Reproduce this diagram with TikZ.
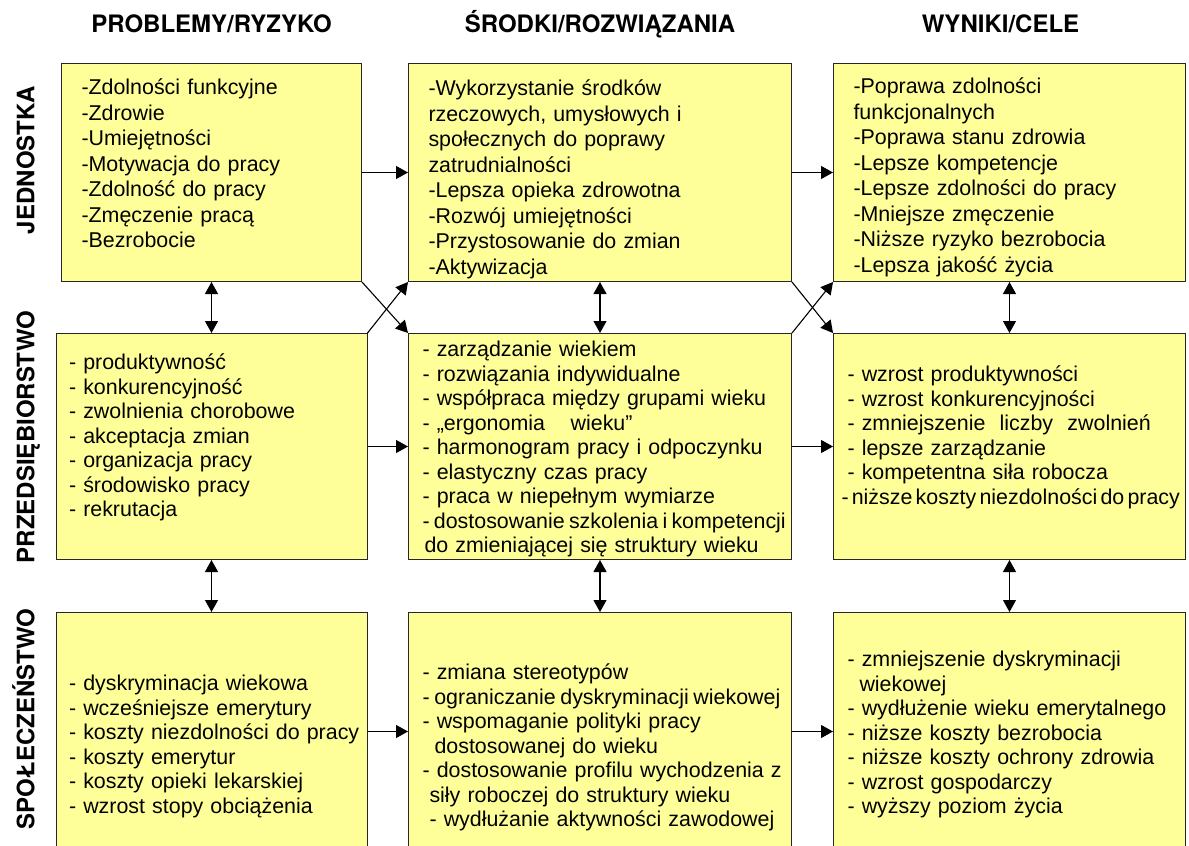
\documentclass[tikz,border=0pt]{standalone}
\usepackage{fontspec}
\setmainfont{Liberation Sans}
\newfontfamily\headfont{texgyreheros-bold.otf}
\usetikzlibrary{arrows.meta,positioning}
\definecolor{cellyellow}{RGB}{255,255,153}
\hyphenpenalty=10000 \exhyphenpenalty=10000
\newcommand\tightline[2]{\mbox{\spaceskip=#1em\relax #2}}

\begin{document}
\begin{tikzpicture}[node distance=25.5pt and 23pt,cell/.style={draw=black!85,line width=0.5pt,fill=cellyellow,align=left,inner ysep=0pt},cellA/.style={cell,inner xsep=10pt,font=\fontsize{10.7}{12.75}\selectfont},cellB/.style={cell,inner xsep=7pt,font=\fontsize{10.7}{12.25}\selectfont},head/.style={font=\headfont\fontsize{12}{14}\selectfont},side/.style={font=\headfont\fontsize{12}{14}\selectfont,rotate=90,anchor=base},arr/.style={line width=0.55pt,-{Triangle[length=6pt,width=6.5pt]}},dbl/.style={line width=0.55pt,{Triangle[length=6pt,width=6.5pt]}-{Triangle[length=6pt,width=6.5pt]}}]
\useasboundingbox (0,0) rectangle (594.5pt,-423pt);
\node[cellA,text width=130pt,text height=15.7pt,text depth=93.3pt,anchor=north west] (p1) at (30.5pt,-31.5pt) {-Zdolności funkcyjne\\-Zdrowie\\-Umiejętności\\-Motywacja do pracy\\-Zdolność do pracy\\-Zmęczenie pracą\\-Bezrobocie};
\node[cellA,text width=171.5pt,text height=16.2pt,text depth=92.8pt,right=23pt of p1] (m1) {-Wykorzystanie środków\\rzeczowych, umysłowych i\\społecznych do poprawy\\zatrudnialności\\-Lepsza opieka zdrowotna\\-Rozwój umiejętności\\-Przystosowanie do zmian\\-Aktywizacja};
\node[cellA,text width=156pt,text height=15.2pt,text depth=93.8pt,right=20.5pt of m1] (r1) {-Poprawa zdolności\\funkcjonalnych\\-Poprawa stanu zdrowia\\-Lepsze kompetencje\\-Lepsze zdolności do pracy\\-Mniejsze zmęczenie\\-Niższe ryzyko bezrobocia\\-Lepsza jakość życia};
\node[cellB,inner xsep=6.5pt,text width=142.5pt,text height=18.2pt,text depth=94.8pt,below=of p1] (p2) {- produktywność\\- konkurencyjność\\- zwolnienia chorobowe\\- akceptacja zmian\\- organizacja pracy\\- środowisko pracy\\- rekrutacja};
\node[cellB,text width=177.5pt,text height=11.7pt,text depth=101.3pt,below=of m1] (m2) {- zarządzanie wiekiem\\- rozwiązania indywidualne\\\mbox{- współpraca między grupami wieku}\\- „ergonomia\hspace{1.2em}wieku”\\\mbox{- harmonogram pracy i odpoczynku}\\- elastyczny czas pracy\\- praca w niepełnym wymiarze\\\tightline{0.2}{- dostosowanie szkolenia i kompetencji}\\\mbox{\hspace*{1pt}do zmieniającej się struktury wieku}};
\node[cellB,text width=162pt,text height=24.2pt,text depth=88.8pt,below=of r1] (r2) {- wzrost produktywności\\- wzrost konkurencyjności\\- zmniejszenie\ \ liczby\ \ zwolnień\\- lepsze zarządzanie\\- kompetentna siła robocza\\\hspace*{-3pt}\tightline{0.15}{- niższe koszty niezdolności do pracy}};
\node[cellB,inner xsep=6.5pt,text width=142.5pt,text height=39.2pt,text depth=79.8pt,below=26pt of p2] (p3) {- dyskryminacja wiekowa\\- wcześniejsze emerytury\\\mbox{- koszty niezdolności do pracy}\\- koszty emerytur\\- koszty opieki lekarskiej\\- wzrost stopy obciążenia};
\node[cellB,text width=177.5pt,text height=33.7pt,text depth=85.3pt,below=26pt of m2] (m3) {- zmiana stereotypów\\\tightline{0.22}{- ograniczanie dyskryminacji wiekowej}\\- wspomaganie polityki pracy\\\hspace*{6pt}dostosowanej do wieku\\\mbox{- dostosowanie profilu wychodzenia z}\\\mbox{\hspace*{3.5pt}siły roboczej do struktury wieku}\\\mbox{\hspace*{3.5pt}- wydłużanie aktywności zawodowej}};
\node[cellB,text width=162pt,text height=27.2pt,text depth=91.8pt,below=26pt of r2] (r3) {- zmniejszenie dyskryminacji\\\hspace*{6pt}wiekowej\\\mbox{- wydłużenie wieku emerytalnego}\\- niższe koszty bezrobocia\\\mbox{- niższe koszty ochrony zdrowia}\\- wzrost gospodarczy\\- wyższy poziom życia};
\node[head,above=15.2pt of p1,anchor=base] (hprob) {PROBLEMY/RYZYKO};
\node[head,above=15.2pt of m1,anchor=base] (hmeans) {ŚRODKI/ROZWIĄZANIA};
\node[head,above=15.2pt of r1,anchor=base,xshift=-4.5pt] (hres) {WYNIKI/CELE};
\node[side] (sind) at (17.2pt,-80pt) {JEDNOSTKA};
\node[side] (sent) at (17.2pt,-218.5pt) {PRZEDSIĘBIORSTWO};
\node[side] (ssoc) at (17.2pt,-359.5pt) {SPOŁECZEŃSTWO};
\draw[arr](p1.east)--(m1.west);\draw[arr](m1.east)--(r1.west);
\draw[arr](p2.east)--(m2.west);\draw[arr](m2.east)--(r2.west);
\draw[arr](p3.east)--(m3.west);\draw[arr](m3.east)--(r3.west);
\draw[dbl](p1.south)--(p2.north);\draw[dbl](m1.south)--(m2.north);\draw[dbl](r1.south)--(r2.north);
\draw[dbl](p2.south)--(p3.north);\draw[dbl](m2.south)--(m3.north);\draw[dbl](r2.south)--(r3.north);
\draw[arr](p1.south east)--(m2.north west);\draw[arr](p2.north east)--(m1.south west);
\draw[arr](m1.south east)--(r2.north west);\draw[arr](m2.north east)--(r1.south west);
\end{tikzpicture}
\end{document}
